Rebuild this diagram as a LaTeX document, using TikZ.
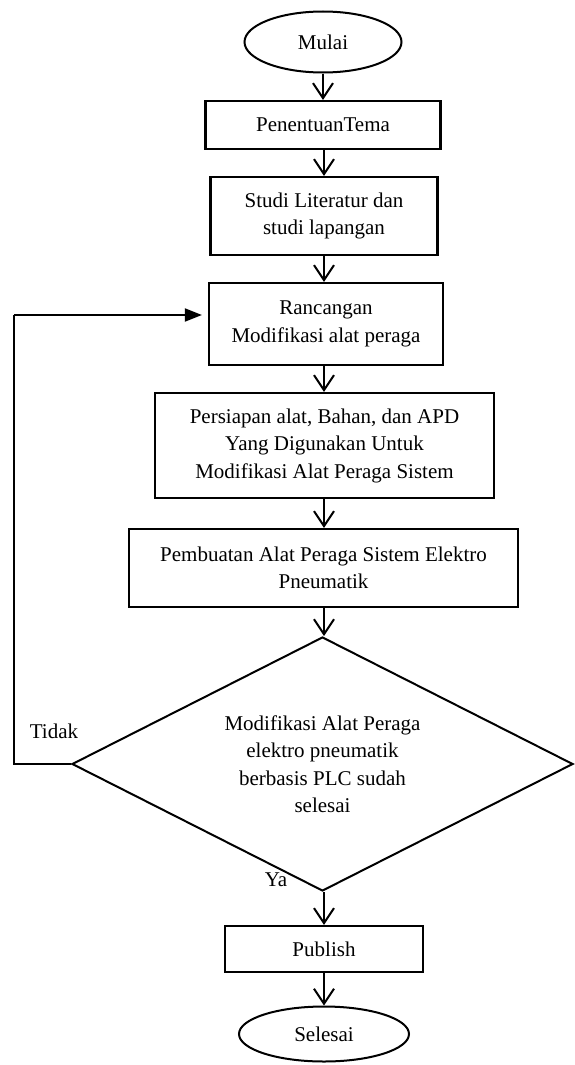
\documentclass[tikz,border=0pt]{standalone}
\usepackage{fontspec}
\setmainfont{Liberation Serif}
\usetikzlibrary{shapes.geometric,arrows.meta}
\begin{document}
\begin{tikzpicture}[x=1pt,y=-1pt,
  txt/.style={font=\fontsize{21}{27.5}\selectfont, align=center, inner sep=0pt},
  procbox/.style={txt, draw, line width=2.2pt, rectangle},
  term/.style={txt, draw, line width=2pt, ellipse},
  decbox/.style={txt, draw, line width=2pt, diamond, aspect=1.97},
  arr/.style={line width=2pt, -{Straight Barb[length=15pt,width=20pt,line width=2pt]}},
  fb/.style={line width=1.2pt},
  lbl/.style={font=\fontsize{21}{27.5}\selectfont, inner sep=0pt}]
\useasboundingbox (0,0) rectangle (574,1065);

\node[term, minimum width=157pt, minimum height=61pt] (mulai) at (323,42) {Mulai};
\node[procbox, minimum width=235pt, minimum height=48pt] (tema) at (323,125) {PenentuanTema};
\node[procbox, minimum width=227pt, minimum height=78pt] (studi) at (324,216) {Studi Literatur dan\\studi lapangan};
\node[procbox, minimum width=234pt, minimum height=82pt] (ranc) at (326,324) {Rancangan\\Modifikasi alat peraga};
\node[procbox, minimum width=339pt, minimum height=105pt] (pers) at (324.5,445.5) {Persiapan alat, Bahan, dan APD\\Yang Digunakan Untuk\\Modifikasi Alat Peraga Sistem};
\node[procbox, minimum width=389pt, minimum height=78pt] (pemb) at (323.5,568) {Pembuatan Alat Peraga Sistem Elektro\\Pneumatik};
\node[decbox, minimum width=501pt, minimum height=254pt] (dec) at (322.5,764) {Modifikasi Alat Peraga\\elektro pneumatik\\berbasis PLC sudah\\selesai};
\node[procbox, minimum width=198pt, minimum height=46pt] (pub) at (324,949) {Publish};
\node[term, minimum width=170pt, minimum height=55pt] (sel) at (324,1034) {Selesai};

\node[lbl] (tidak) at (54,731) {Tidak};
\node[lbl] (ya) at (276,880) {Ya};

\draw[arr] (mulai.south) -- (mulai.south |- tema.north);
\draw[arr] (324,0 |- tema.south) -- (324,0 |- studi.north);
\draw[arr] (studi.south) -- (studi.south |- ranc.north);
\draw[arr] (324,0 |- ranc.south) -- (324,0 |- pers.north);
\draw[arr] (324,0 |- pers.south) -- (324,0 |- pemb.north);
\draw[arr] (324,0 |- pemb.south) -- (324,0 |- dec.north);
\draw[arr] (324,0 |- dec.south) -- (pub.north);
\draw[arr] (pub.south) -- (sel.north);

\coordinate (fbb) at (14,0 |- dec.west);
\coordinate (fbt) at (14,315);
\draw[fb] (dec.west) -- (fbb) -- (fbt);
\draw[line width=2pt, -{Triangle[length=17pt,width=13pt]}, shorten >=6pt] (fbt) -- (fbt -| ranc.west);
\end{tikzpicture}
\end{document}
